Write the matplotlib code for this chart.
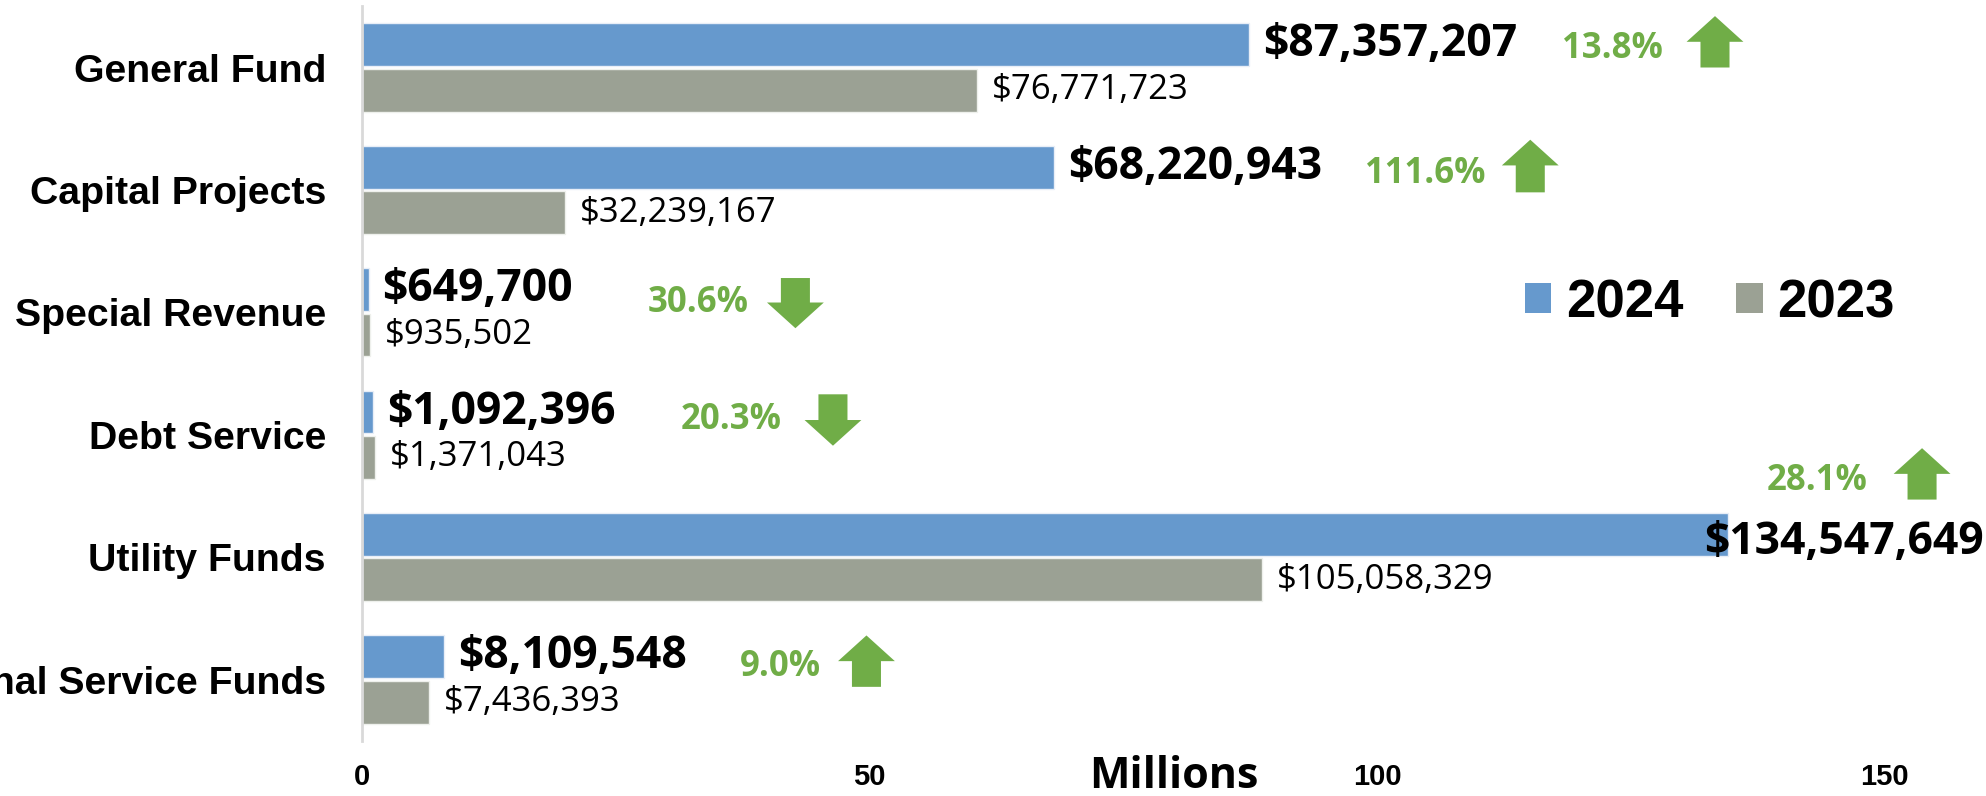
import matplotlib
matplotlib.use("Agg")

import matplotlib.pyplot as plt
from matplotlib.patches import FancyArrow, Patch

# --- data -------------------------------------------------------------
funds = ["General Fund", "Capital Projects", "Special Revenue",
         "Debt Service", "Utility Funds", "Internal Service Funds"]
values_2024 = [87357207, 68220943, 649700, 1092396, 134547649, 8109548]
values_2023 = [76771723, 32239167, 935502, 1371043, 105058329, 7436393]
# the 2023 bars in the source are not drawn to the axis scale:
# lengths (millions)
bars_2023_drawn = [60.6, 20.0, 0.8, 1.25, 88.7, 6.6]
pct_change = [13.8, 111.6, -30.6, -20.3, 28.1, 9.0]
x_ticks = [0, 50, 100, 150]

# --- layout of the change badges (data units, row-relative y) ---------
pct_x = [118.2, 98.8, 28.1, 31.4, 138.4, 37.2]
pct_dy = [-0.155, -0.13, -0.08, -0.12, -0.625, -0.10]
arrow_x = [133.3, 115.1, 42.7, 46.4, 153.7, 49.7]
arrow_top = [-0.42, -0.41, -0.28, -0.33, -0.89, -0.36]
arrow_bottom = [0.0, 0.02, 0.13, 0.09, -0.47, 0.06]

BLUE = "#6699CD"
GRAY = "#9BA194"
GREEN = "#70AD47"
W, H, DPI = 1986, 796, 100

fig = plt.figure(figsize=(W / DPI, H / DPI), dpi=DPI)
ax = fig.add_axes([362 / W, (H - 740.7) / H, (W - 362) / W, 734.4 / H])

ys = list(range(len(funds)))
bh = 0.35
off = 0.185
v24_m = [v / 1e6 for v in values_2024]
ax.barh([y - off for y in ys], v24_m, height=bh, color=BLUE,
        edgecolor="#e8eef7", linewidth=1, zorder=2)
ax.barh([y + off for y in ys], bars_2023_drawn, height=bh, color=GRAY,
        edgecolor="#eef0ec", linewidth=1, zorder=2)

ax.set_xlim(0, 160)
ax.set_ylim(5.5, -0.5)

fig.canvas.draw()
renderer = fig.canvas.get_renderer()

for y, v, vm in zip(ys, values_2024, v24_m):
    t = ax.annotate(f"${v:,.0f}", xy=(vm, y - off), xytext=(14, 0),
                    textcoords="offset pixels", ha="left", va="center",
                    fontsize=32, fontweight="bold", family="Open Sans",
                    color="black", zorder=4, annotation_clip=False)
    if t.get_window_extent(renderer).x1 > W:
        # no room on the right: pull the label back against the edge
        t.remove()
        ax.annotate(f"${v:,.0f}", xy=(1, y - 0.12),
                    xycoords=("axes fraction", "data"), xytext=(-2, 0),
                    textcoords="offset pixels", ha="right", va="center",
                    fontsize=32, fontweight="bold", family="Open Sans",
                    color="black", zorder=4)

for y, v, b in zip(ys, values_2023, bars_2023_drawn):
    ax.annotate(f"${v:,.0f}", xy=(b, y + off), xytext=(15, 0),
                textcoords="offset pixels", ha="left", va="center",
                fontsize=25, family="Open Sans", color="black", zorder=4)

for y, p, px, pdy, axx, at, ab in zip(ys, pct_change, pct_x, pct_dy,
                                      arrow_x, arrow_top, arrow_bottom):
    ax.text(px, y + pdy, f"{abs(p):.1f}%", ha="left", va="center",
            fontsize=25, fontweight="bold", family="Open Sans", color=GREEN)
    length = ab - at
    if p >= 0:
        start, dy = y + ab, -length
    else:
        start, dy = y + at, length
    ax.add_patch(FancyArrow(axx, start, 0, dy, width=2.86, head_width=5.6,
                            head_length=0.21, length_includes_head=True,
                            color=GREEN, linewidth=0, zorder=3))

ax.set_yticks(ys)
ax.set_yticklabels(funds, fontsize=28.3, fontweight="bold",
                   family="Liberation Sans")
ax.set_xticks(x_ticks)
ax.set_xticklabels([str(t) for t in x_ticks], fontsize=21,
                   fontweight="bold", family="Liberation Sans")
ax.tick_params(axis="y", length=0, pad=26)
ax.tick_params(axis="x", length=0, pad=16)

ax.set_xlabel("Millions", fontsize=31, fontweight="bold", family="Open Sans")
ax.xaxis.set_label_coords(0.5, -0.049)
ax.xaxis.label.set_va("center")

for side in ["top", "right", "bottom"]:
    ax.spines[side].set_visible(False)
ax.spines["left"].set_color("#D9D9D9")
ax.spines["left"].set_linewidth(2)

handles = [Patch(facecolor=BLUE, label="2024"),
           Patch(facecolor=GRAY, label="2023")]
fig.legend(handles=handles, loc="center left",
           bbox_to_anchor=(1525 / W, 1 - 303 / H), frameon=False, ncol=2,
           handlelength=0.5, handleheight=0.5, handletextpad=0.28,
           columnspacing=1.0, borderpad=0, borderaxespad=0,
           prop={"family": "Liberation Sans", "weight": "bold", "size": 38})

fig.savefig("out.png", dpi=DPI)
plt.close(fig)
